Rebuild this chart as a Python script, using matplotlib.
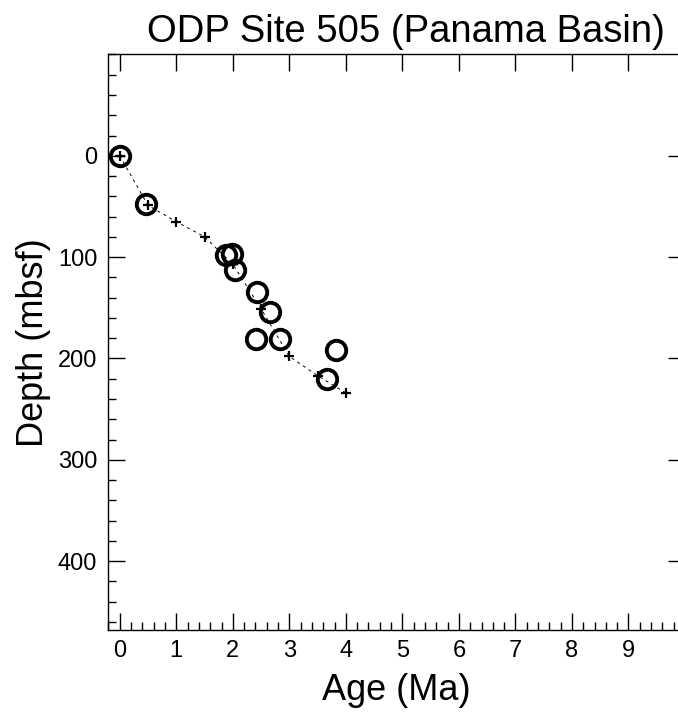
import numpy as np
import matplotlib
matplotlib.use("Agg")
import matplotlib.pyplot as plt
from matplotlib.ticker import MultipleLocator

plt.rcParams['font.family'] = ['Liberation Sans', 'DejaVu Sans']

# age model (line with + markers)
model_age = [0.0, 0.5, 1.0, 1.5, 2.0, 2.5, 3.0, 3.5, 4.0]
model_depth = [0, 49, 65, 80, 107, 151, 198, 217, 234]

# datums (open circles)
datum_age = [0.0, 0.46, 1.88, 1.98, 2.04, 2.43, 2.65, 2.41, 2.83, 3.82, 3.67]
datum_depth = [0, 48, 97.5, 96.5, 112.5, 134, 154, 181, 181, 191.5, 220.5]

fig = plt.figure(figsize=(6.78, 7.13), dpi=100)
ax = fig.add_axes([0.160, 0.1164, 0.8503, 0.8072])

ax.plot(model_age, model_depth, color='black', lw=0.7, ls=(0, (3, 4)),
        marker='+', ms=7, mew=1.6)
ax.plot(datum_age, datum_depth, ls='none', marker='o', ms=14, mfc='none',
        mec='black', mew=2.8)

ax.set_xlim(-0.2, 10.0)
ax.set_ylim(468, -100)

ax.xaxis.set_minor_locator(MultipleLocator(0.2))
ax.yaxis.set_minor_locator(MultipleLocator(20))
ax.set_xticks(np.arange(0, 10))
ax.set_yticks([0, 100, 200, 300, 400])

ax.tick_params(which='both', direction='in', top=True, right=True,
               labelsize=17, width=1)
ax.tick_params(which='major', length=12)
ax.tick_params(which='minor', length=6, top=False, right=False)
ax.tick_params(axis='x', pad=7)
ax.tick_params(axis='y', pad=8)
for s in ax.spines.values():
    s.set_linewidth(1)

ax.set_title('ODP Site 505 (Panama Basin)', fontsize=27.5, pad=9, x=0.516)
ax.set_xlabel('Age (Ma)', fontsize=26, labelpad=8)
ax.set_ylabel('Depth (mbsf)', fontsize=26, labelpad=5)

fig.savefig('out.png', dpi=100)
